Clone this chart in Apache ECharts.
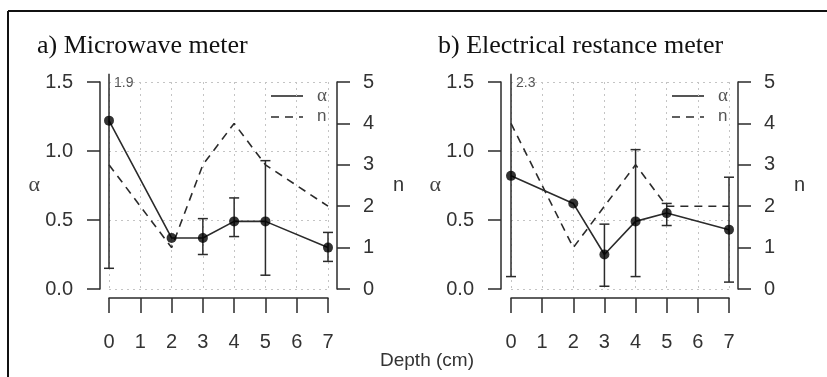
<!DOCTYPE html>
<html>
<head>
<meta charset="UTF-8">
<title>alpha and n by depth</title>
<script src="https://cdn.jsdelivr.net/npm/echarts@6/dist/echarts.min.js"></script>
<style>
  html, body { margin: 0; padding: 0; background: #fff; }
  #main { width: 827px; height: 377px; }
</style>
</head>
<body>
<div id="main"></div>
<script>
// depth values (cm) where data was measured
const depth = [0, 2, 3, 4, 5, 7];

// a) microwave meter
const alphaA   = [1.22, 0.37, 0.37, 0.49, 0.49, 0.30];
const alphaLoA = [0.15, null, 0.25, 0.38, 0.10, 0.20];
const alphaHiA = [1.9,  null, 0.51, 0.66, 0.93, 0.41];
const nA       = [3, 1, 3, 4, 3, 2];

// b) electrical resistance meter
const alphaB   = [0.82, 0.62, 0.25, 0.49, 0.55, 0.43];
const alphaLoB = [0.09, null, 0.02, 0.09, 0.46, 0.05];
const alphaHiB = [2.3,  null, 0.47, 1.01, 0.62, 0.81];
const nB       = [4, 1, 2, 3, 2, 2];

const panelTitles = ['a) Microwave meter', 'b) Electrical restance meter'];

const ink = '#2b2b2b';
const sans = 'Liberation Sans, Arial, sans-serif';
const serif = 'Liberation Serif, Times New Roman, serif';
const alphaTop = 1.56; // top of the plot region, bars above it get cut
const dash = [8, 6];

var myChart = echarts.init(document.getElementById('main'));

function pairs(ys) {
  return depth.map((d, i) => [d, ys[i]]);
}

function xAxisFor(idx) {
  return {
    type: 'value', gridIndex: idx, min: 0, max: 7, interval: 1,
    position: 'bottom', offset: 9,
    axisLine: { show: true, onZero: false, lineStyle: { color: ink, width: 1.5 } },
    axisTick: { show: true, inside: false, length: 15, lineStyle: { color: ink, width: 1.5 } },
    axisLabel: { margin: 34, fontSize: 20, color: '#333', fontFamily: sans },
    splitLine: { show: true, lineStyle: { color: '#c4c4c4', type: [2, 4], width: 1 } }
  };
}

function leftAxisFor(idx, off) {
  return {
    type: 'value', gridIndex: idx, min: 0, max: 1.5, interval: 0.5,
    position: 'left', offset: off,
    name: 'α', nameLocation: 'middle', nameRotate: 0, nameGap: 60,
    nameTextStyle: { fontSize: 22, color: '#444', fontFamily: serif },
    axisLine: { show: true, onZero: false, lineStyle: { color: ink, width: 1.5 } },
    axisTick: { show: true, inside: false, length: 13, lineStyle: { color: ink, width: 1.5 } },
    axisLabel: { margin: 27, fontSize: 20, color: '#333', fontFamily: sans,
      formatter: v => v.toFixed(1) },
    splitLine: { show: true, lineStyle: { color: '#c4c4c4', type: [2, 4], width: 1 } }
  };
}

function rightAxisFor(idx) {
  return {
    type: 'value', gridIndex: idx, min: 0, max: 5, interval: 1,
    position: 'right', offset: 9,
    name: 'n', nameLocation: 'middle', nameRotate: 0, nameGap: 56,
    nameTextStyle: { fontSize: 20, color: '#333', fontFamily: sans },
    axisLine: { show: true, onZero: false, lineStyle: { color: ink, width: 1.5 } },
    axisTick: { show: true, inside: false, length: 13, lineStyle: { color: ink, width: 1.5 } },
    axisLabel: { margin: 26, fontSize: 20, color: '#333', fontFamily: sans },
    splitLine: { show: false }
  };
}

function errorSeries(idx, lo, hi) {
  return {
    type: 'custom', name: 'err' + idx,
    xAxisIndex: idx, yAxisIndex: idx * 2,
    data: depth.map((d, i) => [d, lo[i], hi[i]]),
    renderItem: function (params, api) {
      if (api.value(1) == null || isNaN(api.value(1))) return;
      const x = api.value(0);
      const hiV = api.value(2);
      const top = api.coord([x, Math.min(hiV, alphaTop)]);
      const bot = api.coord([x, api.value(1)]);
      const st = { stroke: ink, lineWidth: 1.5 };
      const kids = [
        { type: 'line', shape: { x1: top[0], y1: top[1], x2: bot[0], y2: bot[1] }, style: st },
        { type: 'line', shape: { x1: bot[0] - 5, y1: bot[1], x2: bot[0] + 5, y2: bot[1] }, style: st }
      ];
      if (hiV > alphaTop) {
        kids.push({ type: 'text', x: top[0] + 5, y: top[1] + 2,
          style: { text: String(hiV), fontSize: 14, fill: '#555', fontFamily: sans } });
      } else {
        kids.push({ type: 'line', shape: { x1: top[0] - 5, y1: top[1], x2: top[0] + 5, y2: top[1] }, style: st });
      }
      return { type: 'group', children: kids };
    },
    z: 3
  };
}

function panelSeries(idx, alpha, lo, hi, n) {
  return [
    errorSeries(idx, lo, hi),
    {
      name: 'α', type: 'line', xAxisIndex: idx, yAxisIndex: idx * 2,
      data: pairs(alpha), symbol: 'none',
      lineStyle: { color: ink, width: 1.6 }, itemStyle: { color: ink }, z: 4
    },
    {
      name: 'pts' + idx, type: 'scatter', xAxisIndex: idx, yAxisIndex: idx * 2,
      data: pairs(alpha), symbolSize: 10,
      itemStyle: { color: '#000' }, z: 5
    },
    {
      name: 'n', type: 'line', xAxisIndex: idx, yAxisIndex: idx * 2 + 1,
      data: pairs(n), symbol: 'none',
      lineStyle: { color: ink, width: 1.6, type: dash }, itemStyle: { color: ink }, z: 4
    }
  ];
}

// hand drawn key, like the R legend (line sample + label)
function keyFor(x) {
  return [
    { type: 'line', shape: { x1: x, y1: 96, x2: x + 32, y2: 96 }, style: { stroke: ink, lineWidth: 1.6 } },
    { type: 'line', shape: { x1: x, y1: 117, x2: x + 32, y2: 117 }, style: { stroke: ink, lineWidth: 1.6, lineDash: dash } },
    { type: 'text', x: x + 46, y: 96, style: { text: 'α', fontSize: 19, fontFamily: serif, fill: '#555', verticalAlign: 'middle' } },
    { type: 'text', x: x + 46, y: 116, style: { text: 'n', fontSize: 17, fontFamily: sans, fill: '#555', verticalAlign: 'middle' } }
  ];
}

var option = {
  backgroundColor: '#fff',
  animation: false,
  title: [
    { text: panelTitles[0], left: 32, top: 28,
      textStyle: { fontFamily: serif, fontSize: 26, fontWeight: 'normal', color: '#111' } },
    { text: panelTitles[1], left: 433, top: 28,
      textStyle: { fontFamily: serif, fontSize: 26, fontWeight: 'normal', color: '#111' } },
    { text: 'Depth (cm)', left: 422, top: 346, textAlign: 'center',
      textStyle: { fontFamily: sans, fontSize: 19, fontWeight: 'normal', color: '#333' } }
  ],
  grid: [
    { left: 109, right: 499, top: 82, bottom: 88 },
    { left: 511, right: 98, top: 82, bottom: 88 }
  ],
  xAxis: [xAxisFor(0), xAxisFor(1)],
  yAxis: [leftAxisFor(0, 9), rightAxisFor(0), leftAxisFor(1, 10), rightAxisFor(1)],
  series: [].concat(
    panelSeries(0, alphaA, alphaLoA, alphaHiA, nA),
    panelSeries(1, alphaB, alphaLoB, alphaHiB, nB)
  ),
  graphic: [
    { type: 'line', shape: { x1: 8, y1: 11, x2: 827, y2: 11 }, style: { stroke: '#111', lineWidth: 2 } },
    { type: 'line', shape: { x1: 8, y1: 11, x2: 8, y2: 377 }, style: { stroke: '#111', lineWidth: 2 } }
  ].concat(keyFor(271), keyFor(672))
};

myChart.setOption(option);
</script>
</body>
</html>
